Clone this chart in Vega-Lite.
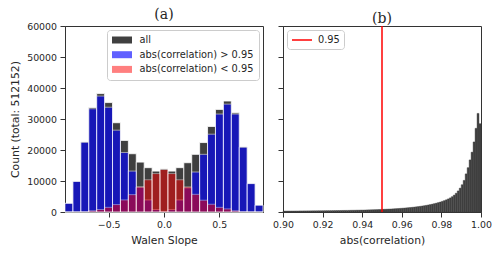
{
  "$schema": "https://vega.github.io/schema/vega-lite/v6.json",
  "autosize": {"type": "pad"},
  "padding": {"left": 9, "top": 7, "right": 0, "bottom": 0},
  "background": "white",
  "config": {
    "font": "DejaVu Sans",
    "view": {"stroke": "#333333", "strokeWidth": 1},
    "axis": {"grid": false, "domainColor": "#333333", "tickColor": "#333333", "tickSize": 5, "labelFontSize": 9.4, "labelColor": "#262626", "titleFontSize": 10.8, "titleFontWeight": "normal", "titleColor": "#262626", "labelPadding": 3.5, "titlePadding": 6, "labelFont": "DejaVu Sans", "titleFont": "DejaVu Sans", "labelOverlap": false, "labelFlush": false, "labelSeparation": 0},
    "axisX": {"labelOverlap": false},
    "title": {"font": "DejaVu Serif", "fontSize": 14, "fontWeight": "normal", "color": "#262626", "offset": 0, "dy": 4.5, "frame": "group"}
  },
  "datasets": {
    "walen": [
      {"bin_start": -0.895, "bin_end": -0.8234, "series": "all", "count": 2800},
      {"bin_start": -0.8234, "bin_end": -0.7518, "series": "all", "count": 9900},
      {"bin_start": -0.7518, "bin_end": -0.6802, "series": "all", "count": 22600},
      {"bin_start": -0.6802, "bin_end": -0.6086, "series": "all", "count": 33700},
      {"bin_start": -0.6086, "bin_end": -0.537, "series": "all", "count": 38200},
      {"bin_start": -0.537, "bin_end": -0.4654, "series": "all", "count": 35300},
      {"bin_start": -0.4654, "bin_end": -0.3938, "series": "all", "count": 28800},
      {"bin_start": -0.3938, "bin_end": -0.3222, "series": "all", "count": 23100},
      {"bin_start": -0.3222, "bin_end": -0.2506, "series": "all", "count": 18800},
      {"bin_start": -0.2506, "bin_end": -0.179, "series": "all", "count": 16100},
      {"bin_start": -0.179, "bin_end": -0.1074, "series": "all", "count": 14300},
      {"bin_start": -0.1074, "bin_end": -0.0358, "series": "all", "count": 13200},
      {"bin_start": -0.0358, "bin_end": 0.0358, "series": "all", "count": 13900},
      {"bin_start": 0.0358, "bin_end": 0.1074, "series": "all", "count": 13200},
      {"bin_start": 0.1074, "bin_end": 0.179, "series": "all", "count": 14300},
      {"bin_start": 0.179, "bin_end": 0.2506, "series": "all", "count": 15900},
      {"bin_start": 0.2506, "bin_end": 0.3222, "series": "all", "count": 18600},
      {"bin_start": 0.3222, "bin_end": 0.3938, "series": "all", "count": 22400},
      {"bin_start": 0.3938, "bin_end": 0.4654, "series": "all", "count": 27600},
      {"bin_start": 0.4654, "bin_end": 0.537, "series": "all", "count": 33100},
      {"bin_start": 0.537, "bin_end": 0.6086, "series": "all", "count": 35800},
      {"bin_start": 0.6086, "bin_end": 0.6802, "series": "all", "count": 32000},
      {"bin_start": 0.6802, "bin_end": 0.7518, "series": "all", "count": 21000},
      {"bin_start": 0.7518, "bin_end": 0.8234, "series": "all", "count": 9200},
      {"bin_start": 0.8234, "bin_end": 0.895, "series": "all", "count": 2200},
      {"bin_start": -0.895, "bin_end": -0.8234, "series": "abs(correlation) > 0.95", "count": 2800},
      {"bin_start": -0.8234, "bin_end": -0.7518, "series": "abs(correlation) > 0.95", "count": 9850},
      {"bin_start": -0.7518, "bin_end": -0.6802, "series": "abs(correlation) > 0.95", "count": 22500},
      {"bin_start": -0.6802, "bin_end": -0.6086, "series": "abs(correlation) > 0.95", "count": 33300},
      {"bin_start": -0.6086, "bin_end": -0.537, "series": "abs(correlation) > 0.95", "count": 37400},
      {"bin_start": -0.537, "bin_end": -0.4654, "series": "abs(correlation) > 0.95", "count": 33800},
      {"bin_start": -0.4654, "bin_end": -0.3938, "series": "abs(correlation) > 0.95", "count": 26400},
      {"bin_start": -0.3938, "bin_end": -0.3222, "series": "abs(correlation) > 0.95", "count": 19200},
      {"bin_start": -0.3222, "bin_end": -0.2506, "series": "abs(correlation) > 0.95", "count": 13200},
      {"bin_start": -0.2506, "bin_end": -0.179, "series": "abs(correlation) > 0.95", "count": 8000},
      {"bin_start": -0.179, "bin_end": -0.1074, "series": "abs(correlation) > 0.95", "count": 3900},
      {"bin_start": -0.1074, "bin_end": -0.0358, "series": "abs(correlation) > 0.95", "count": 800},
      {"bin_start": -0.0358, "bin_end": 0.0358, "series": "abs(correlation) > 0.95", "count": 200},
      {"bin_start": 0.0358, "bin_end": 0.1074, "series": "abs(correlation) > 0.95", "count": 800},
      {"bin_start": 0.1074, "bin_end": 0.179, "series": "abs(correlation) > 0.95", "count": 3900},
      {"bin_start": 0.179, "bin_end": 0.2506, "series": "abs(correlation) > 0.95", "count": 7800},
      {"bin_start": 0.2506, "bin_end": 0.3222, "series": "abs(correlation) > 0.95", "count": 12900},
      {"bin_start": 0.3222, "bin_end": 0.3938, "series": "abs(correlation) > 0.95", "count": 18600},
      {"bin_start": 0.3938, "bin_end": 0.4654, "series": "abs(correlation) > 0.95", "count": 25100},
      {"bin_start": 0.4654, "bin_end": 0.537, "series": "abs(correlation) > 0.95", "count": 31600},
      {"bin_start": 0.537, "bin_end": 0.6086, "series": "abs(correlation) > 0.95", "count": 34800},
      {"bin_start": 0.6086, "bin_end": 0.6802, "series": "abs(correlation) > 0.95", "count": 31600},
      {"bin_start": 0.6802, "bin_end": 0.7518, "series": "abs(correlation) > 0.95", "count": 20900},
      {"bin_start": 0.7518, "bin_end": 0.8234, "series": "abs(correlation) > 0.95", "count": 9150},
      {"bin_start": 0.8234, "bin_end": 0.895, "series": "abs(correlation) > 0.95", "count": 2200},
      {"bin_start": -0.895, "bin_end": -0.8234, "series": "abs(correlation) < 0.95", "count": 20},
      {"bin_start": -0.8234, "bin_end": -0.7518, "series": "abs(correlation) < 0.95", "count": 50},
      {"bin_start": -0.7518, "bin_end": -0.6802, "series": "abs(correlation) < 0.95", "count": 100},
      {"bin_start": -0.6802, "bin_end": -0.6086, "series": "abs(correlation) < 0.95", "count": 400},
      {"bin_start": -0.6086, "bin_end": -0.537, "series": "abs(correlation) < 0.95", "count": 800},
      {"bin_start": -0.537, "bin_end": -0.4654, "series": "abs(correlation) < 0.95", "count": 1500},
      {"bin_start": -0.4654, "bin_end": -0.3938, "series": "abs(correlation) < 0.95", "count": 2400},
      {"bin_start": -0.3938, "bin_end": -0.3222, "series": "abs(correlation) < 0.95", "count": 3900},
      {"bin_start": -0.3222, "bin_end": -0.2506, "series": "abs(correlation) < 0.95", "count": 5600},
      {"bin_start": -0.2506, "bin_end": -0.179, "series": "abs(correlation) < 0.95", "count": 8100},
      {"bin_start": -0.179, "bin_end": -0.1074, "series": "abs(correlation) < 0.95", "count": 10400},
      {"bin_start": -0.1074, "bin_end": -0.0358, "series": "abs(correlation) < 0.95", "count": 12400},
      {"bin_start": -0.0358, "bin_end": 0.0358, "series": "abs(correlation) < 0.95", "count": 13700},
      {"bin_start": 0.0358, "bin_end": 0.1074, "series": "abs(correlation) < 0.95", "count": 12400},
      {"bin_start": 0.1074, "bin_end": 0.179, "series": "abs(correlation) < 0.95", "count": 10400},
      {"bin_start": 0.179, "bin_end": 0.2506, "series": "abs(correlation) < 0.95", "count": 8100},
      {"bin_start": 0.2506, "bin_end": 0.3222, "series": "abs(correlation) < 0.95", "count": 5700},
      {"bin_start": 0.3222, "bin_end": 0.3938, "series": "abs(correlation) < 0.95", "count": 3800},
      {"bin_start": 0.3938, "bin_end": 0.4654, "series": "abs(correlation) < 0.95", "count": 2500},
      {"bin_start": 0.4654, "bin_end": 0.537, "series": "abs(correlation) < 0.95", "count": 1500},
      {"bin_start": 0.537, "bin_end": 0.6086, "series": "abs(correlation) < 0.95", "count": 1000},
      {"bin_start": 0.6086, "bin_end": 0.6802, "series": "abs(correlation) < 0.95", "count": 400},
      {"bin_start": 0.6802, "bin_end": 0.7518, "series": "abs(correlation) < 0.95", "count": 100},
      {"bin_start": 0.7518, "bin_end": 0.8234, "series": "abs(correlation) < 0.95", "count": 50},
      {"bin_start": 0.8234, "bin_end": 0.895, "series": "abs(correlation) < 0.95", "count": 20}
    ],
    "corr": [
      {"bin_start": 0.900, "bin_end": 0.901, "count": 300},
      {"bin_start": 0.901, "bin_end": 0.902, "count": 300},
      {"bin_start": 0.902, "bin_end": 0.903, "count": 310},
      {"bin_start": 0.903, "bin_end": 0.904, "count": 310},
      {"bin_start": 0.904, "bin_end": 0.905, "count": 320},
      {"bin_start": 0.905, "bin_end": 0.906, "count": 320},
      {"bin_start": 0.906, "bin_end": 0.907, "count": 330},
      {"bin_start": 0.907, "bin_end": 0.908, "count": 330},
      {"bin_start": 0.908, "bin_end": 0.909, "count": 340},
      {"bin_start": 0.909, "bin_end": 0.910, "count": 340},
      {"bin_start": 0.910, "bin_end": 0.911, "count": 350},
      {"bin_start": 0.911, "bin_end": 0.912, "count": 350},
      {"bin_start": 0.912, "bin_end": 0.913, "count": 360},
      {"bin_start": 0.913, "bin_end": 0.914, "count": 360},
      {"bin_start": 0.914, "bin_end": 0.915, "count": 370},
      {"bin_start": 0.915, "bin_end": 0.916, "count": 380},
      {"bin_start": 0.916, "bin_end": 0.917, "count": 380},
      {"bin_start": 0.917, "bin_end": 0.918, "count": 390},
      {"bin_start": 0.918, "bin_end": 0.919, "count": 400},
      {"bin_start": 0.919, "bin_end": 0.920, "count": 400},
      {"bin_start": 0.920, "bin_end": 0.921, "count": 410},
      {"bin_start": 0.921, "bin_end": 0.922, "count": 420},
      {"bin_start": 0.922, "bin_end": 0.923, "count": 430},
      {"bin_start": 0.923, "bin_end": 0.924, "count": 430},
      {"bin_start": 0.924, "bin_end": 0.925, "count": 440},
      {"bin_start": 0.925, "bin_end": 0.926, "count": 450},
      {"bin_start": 0.926, "bin_end": 0.927, "count": 460},
      {"bin_start": 0.927, "bin_end": 0.928, "count": 470},
      {"bin_start": 0.928, "bin_end": 0.929, "count": 480},
      {"bin_start": 0.929, "bin_end": 0.930, "count": 490},
      {"bin_start": 0.930, "bin_end": 0.931, "count": 500},
      {"bin_start": 0.931, "bin_end": 0.932, "count": 510},
      {"bin_start": 0.932, "bin_end": 0.933, "count": 520},
      {"bin_start": 0.933, "bin_end": 0.934, "count": 530},
      {"bin_start": 0.934, "bin_end": 0.935, "count": 550},
      {"bin_start": 0.935, "bin_end": 0.936, "count": 560},
      {"bin_start": 0.936, "bin_end": 0.937, "count": 570},
      {"bin_start": 0.937, "bin_end": 0.938, "count": 590},
      {"bin_start": 0.938, "bin_end": 0.939, "count": 600},
      {"bin_start": 0.939, "bin_end": 0.940, "count": 620},
      {"bin_start": 0.940, "bin_end": 0.941, "count": 630},
      {"bin_start": 0.941, "bin_end": 0.942, "count": 650},
      {"bin_start": 0.942, "bin_end": 0.943, "count": 670},
      {"bin_start": 0.943, "bin_end": 0.944, "count": 690},
      {"bin_start": 0.944, "bin_end": 0.945, "count": 710},
      {"bin_start": 0.945, "bin_end": 0.946, "count": 730},
      {"bin_start": 0.946, "bin_end": 0.947, "count": 750},
      {"bin_start": 0.947, "bin_end": 0.948, "count": 770},
      {"bin_start": 0.948, "bin_end": 0.949, "count": 800},
      {"bin_start": 0.949, "bin_end": 0.950, "count": 820},
      {"bin_start": 0.950, "bin_end": 0.951, "count": 850},
      {"bin_start": 0.951, "bin_end": 0.952, "count": 880},
      {"bin_start": 0.952, "bin_end": 0.953, "count": 910},
      {"bin_start": 0.953, "bin_end": 0.954, "count": 940},
      {"bin_start": 0.954, "bin_end": 0.955, "count": 970},
      {"bin_start": 0.955, "bin_end": 0.956, "count": 1010},
      {"bin_start": 0.956, "bin_end": 0.957, "count": 1050},
      {"bin_start": 0.957, "bin_end": 0.958, "count": 1090},
      {"bin_start": 0.958, "bin_end": 0.959, "count": 1130},
      {"bin_start": 0.959, "bin_end": 0.960, "count": 1180},
      {"bin_start": 0.960, "bin_end": 0.961, "count": 1230},
      {"bin_start": 0.961, "bin_end": 0.962, "count": 1280},
      {"bin_start": 0.962, "bin_end": 0.963, "count": 1340},
      {"bin_start": 0.963, "bin_end": 0.964, "count": 1400},
      {"bin_start": 0.964, "bin_end": 0.965, "count": 1460},
      {"bin_start": 0.965, "bin_end": 0.966, "count": 1530},
      {"bin_start": 0.966, "bin_end": 0.967, "count": 1600},
      {"bin_start": 0.967, "bin_end": 0.968, "count": 1680},
      {"bin_start": 0.968, "bin_end": 0.969, "count": 1760},
      {"bin_start": 0.969, "bin_end": 0.970, "count": 1850},
      {"bin_start": 0.970, "bin_end": 0.971, "count": 1950},
      {"bin_start": 0.971, "bin_end": 0.972, "count": 2050},
      {"bin_start": 0.972, "bin_end": 0.973, "count": 2160},
      {"bin_start": 0.973, "bin_end": 0.974, "count": 2280},
      {"bin_start": 0.974, "bin_end": 0.975, "count": 2410},
      {"bin_start": 0.975, "bin_end": 0.976, "count": 2550},
      {"bin_start": 0.976, "bin_end": 0.977, "count": 2700},
      {"bin_start": 0.977, "bin_end": 0.978, "count": 2860},
      {"bin_start": 0.978, "bin_end": 0.979, "count": 3040},
      {"bin_start": 0.979, "bin_end": 0.980, "count": 3230},
      {"bin_start": 0.980, "bin_end": 0.981, "count": 3440},
      {"bin_start": 0.981, "bin_end": 0.982, "count": 3670},
      {"bin_start": 0.982, "bin_end": 0.983, "count": 3930},
      {"bin_start": 0.983, "bin_end": 0.984, "count": 4220},
      {"bin_start": 0.984, "bin_end": 0.985, "count": 4550},
      {"bin_start": 0.985, "bin_end": 0.986, "count": 4950},
      {"bin_start": 0.986, "bin_end": 0.987, "count": 5450},
      {"bin_start": 0.987, "bin_end": 0.988, "count": 6050},
      {"bin_start": 0.988, "bin_end": 0.989, "count": 6800},
      {"bin_start": 0.989, "bin_end": 0.990, "count": 7700},
      {"bin_start": 0.990, "bin_end": 0.991, "count": 8800},
      {"bin_start": 0.991, "bin_end": 0.992, "count": 10200},
      {"bin_start": 0.992, "bin_end": 0.993, "count": 12300},
      {"bin_start": 0.993, "bin_end": 0.994, "count": 14300},
      {"bin_start": 0.994, "bin_end": 0.995, "count": 16800},
      {"bin_start": 0.995, "bin_end": 0.996, "count": 19300},
      {"bin_start": 0.996, "bin_end": 0.997, "count": 22600},
      {"bin_start": 0.997, "bin_end": 0.998, "count": 27000},
      {"bin_start": 0.998, "bin_end": 0.999, "count": 31800},
      {"bin_start": 0.999, "bin_end": 1.000, "count": 28500}
    ],
    "threshold": [{"value": 0.95, "label": "0.95"}]
  },
  "spacing": 8,
  "resolve": {"scale": {"x": "independent", "y": "independent", "color": "independent", "opacity": "independent", "stroke": "independent"}, "legend": {"color": "independent", "opacity": "independent", "stroke": "independent"}},
  "hconcat": [
    {
      "width": 198,
      "height": 186,
      "title": "(a)",
      "data": {"name": "walen"},
      "mark": {"type": "bar", "stroke": "white", "strokeWidth": 0.8},
      "encoding": {
        "x": {"field": "bin_start", "type": "quantitative", "scale": {"domain": [-0.895, 0.895], "nice": false, "zero": false}, "axis": {"values": [-0.5, 0, 0.5], "format": ".1f", "labelExpr": "replace(datum.label, '-', '\u2212')", "title": "Walen Slope", "labelOverlap": false}},
        "x2": {"field": "bin_end"},
        "y": {"field": "count", "type": "quantitative", "stack": null, "scale": {"domain": [0, 60000], "nice": false}, "axis": {"values": [0, 10000, 20000, 30000, 40000, 50000, 60000], "format": "d", "title": "Count (total: 512152)", "labelOverlap": false}},
        "y2": {"datum": 0},
        "color": {"field": "series", "type": "nominal", "scale": {"domain": ["all", "abs(correlation) > 0.95", "abs(correlation) < 0.95"], "range": ["#000000", "#0000ff", "#ff0000"]},
          "legend": {"orient": "top-right", "offset": 4, "title": null, "symbolType": "M-1,-0.7H3V0.7H-1Z", "symbolSize": 100, "symbolStrokeWidth": 0, "labelFontSize": 9.8, "labelColor": "#262626", "fillColor": "white", "strokeColor": "#cccccc", "padding": 5, "cornerRadius": 3, "rowPadding": 4.7, "labelOffset": 17.6}},
        "opacity": {"field": "series", "type": "nominal", "scale": {"domain": ["all", "abs(correlation) > 0.95", "abs(correlation) < 0.95"], "range": [0.75, 0.5, 0.5]},
          "legend": {"orient": "top-right", "offset": 4, "title": null, "symbolType": "M-1,-0.7H3V0.7H-1Z", "symbolSize": 100, "symbolStrokeWidth": 0, "labelFontSize": 9.8, "labelColor": "#262626", "fillColor": "white", "strokeColor": "#cccccc", "padding": 5, "cornerRadius": 3, "rowPadding": 4.7, "labelOffset": 17.6}}
      }
    },
    {
      "width": 198,
      "height": 186,
      "title": "(b)",
      "layer": [
        {
          "data": {"name": "corr"},
          "mark": {"type": "bar", "color": "#404040", "stroke": "#404040", "strokeWidth": 0.4},
          "encoding": {
            "x": {"field": "bin_start", "type": "quantitative", "scale": {"domain": [0.9, 1.0], "nice": false, "zero": false}, "axis": {"values": [0.9, 0.92, 0.94, 0.96, 0.98, 1.0], "format": ".2f", "title": "abs(correlation)", "labelOverlap": false, "labelSeparation": 0}},
            "x2": {"field": "bin_end"},
            "y": {"field": "count", "type": "quantitative", "scale": {"domain": [0, 60000], "nice": false}, "axis": {"values": [0, 10000, 20000, 30000, 40000, 50000, 60000], "labels": false, "title": null}},
            "y2": {"datum": 0}
          }
        },
        {
          "data": {"name": "threshold"},
          "mark": {"type": "rule", "strokeWidth": 1.5},
          "encoding": {
            "x": {"field": "value", "type": "quantitative", "axis": {"values": [0.9, 0.92, 0.94, 0.96, 0.98, 1.0], "format": ".2f", "title": "abs(correlation)", "labelOverlap": false, "labelSeparation": 0}},
            "stroke": {"field": "label", "type": "nominal", "scale": {"range": ["#ff0000"]},
              "legend": {"orient": "top-left", "offset": 4, "title": null, "symbolType": "M-1,0H3", "symbolSize": 100, "symbolStrokeWidth": 1.5, "labelFontSize": 9.8, "labelColor": "#262626", "fillColor": "white", "strokeColor": "#cccccc", "padding": 4, "cornerRadius": 3, "labelOffset": 15}}
          }
        }
      ]
    }
  ]
}
